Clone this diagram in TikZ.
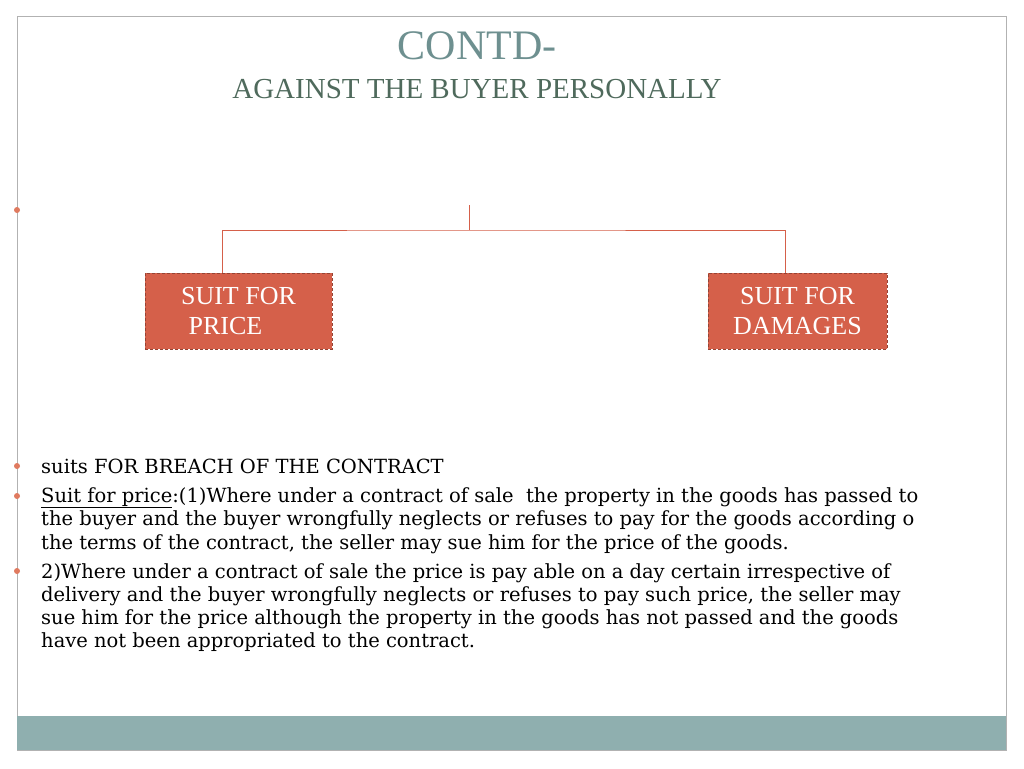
\documentclass[tikz,border=0pt]{standalone}
\usepackage{fontspec}
\setmainfont{Liberation Serif}
\newfontfamily\bodyfont{DejaVu Serif}
\definecolor{boxc}{HTML}{D5604A}
\definecolor{bar}{HTML}{8FAFAF}
\definecolor{ttl}{HTML}{6E9090}
\definecolor{sub}{HTML}{4F6A5C}
\definecolor{dot}{HTML}{E07A5F}
\tikzset{
  sbox/.style={fill=boxc,draw=boxc!70!black,densely dashed,text=white,font=\fontsize{26}{30}\selectfont,align=center,minimum height=76pt,inner sep=0pt},
  conn/.style={draw=boxc,line width=0.8pt},
  bul/.style={circle,fill=dot,inner sep=0pt,minimum size=6pt},
  body/.style={anchor=base west,inner sep=0pt,font=\bodyfont\fontsize{19.5}{23.5}\selectfont,align=left}
}
\begin{document}
\begin{tikzpicture}[x=1pt,y=-1pt]
\useasboundingbox (0,0) rectangle (1024,768);
\fill[white] (0,0) rectangle (1024,768);
\draw[gray!60,line width=1pt] (17,17) rectangle (1006,750);
\fill[bar] (17,716) rectangle (1006,750);
\node[text=ttl,font=\fontsize{42}{46}\selectfont] (t) at (477,46) {CONTD-};
\node[text=sub,font=\fontsize{29}{32}\selectfont] (s) at (477,89) {AGAINST THE BUYER PERSONALLY};
\node[bul] (b0) at (17,210) {};
\node[sbox,minimum width=187pt] (p) at (238.5,311) {SUIT FOR\\PRICE\,\,\,\,\,\,};
\node[sbox,minimum width=179pt] (d) at (797.5,311) {SUIT FOR\\DAMAGES};
\coordinate (top) at (469,205);
\coordinate (mid) at (469,230);
\draw[conn] (top) -- (mid);
\draw[conn] (p.north -| 222,0) |- (mid) -| (d.north -| 785,0);
\node[bul] (b1) at (17,466) {};
\node[bul] (b2) at (17,496) {};
\node[bul] (b3) at (17,571) {};
\node[body] (l1) at (41,473) {suits FOR BREACH OF THE CONTRACT};
\node[body] (l2) at (41,502) {\underline{Suit for price}:(1)Where under a contract of sale\ \ the property in the goods has passed to};
\node[body] (l3) at (41,525) {the buyer and the buyer wrongfully neglects or refuses to pay for the goods according o};
\node[body] (l4) at (41,549) {the terms of the contract, the seller may sue him for the price of the goods.};
\node[body] (l5) at (41,578) {2)Where under a contract of sale the price is pay able on a day certain irrespective of};
\node[body] (l6) at (41,601) {delivery and the buyer wrongfully neglects or refuses to pay such price, the seller may};
\node[body] (l7) at (41,624) {sue him for the price although the property in the goods has not passed and the goods};
\node[body] (l8) at (41,647) {have not been appropriated to the contract.};
\end{tikzpicture}
\end{document}
